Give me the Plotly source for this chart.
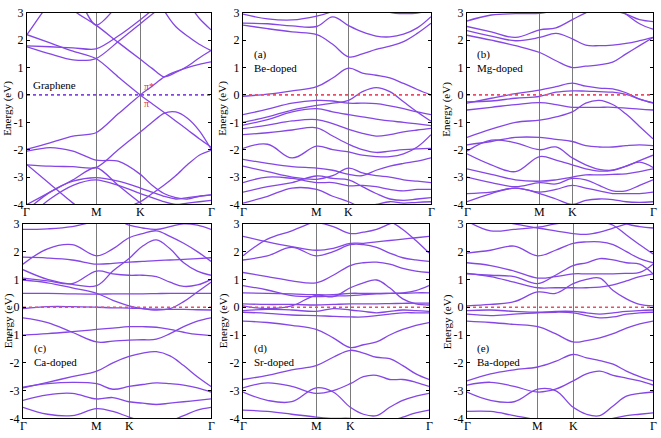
import plotly.graph_objects as go

# ---------------- data ----------------
K_LABELS = ["Γ", "M", "K", "Γ"]
E_TICKS = [-4, -3, -2, -1, 0, 1, 2, 3]

# fractional positions of M and K on each panel's k-path
M_POS = {"graphene": 0.375, "be": 0.392, "mg": 0.391, "ca": 0.392, "sr": 0.393, "ba": 0.380}
K_POS = {"graphene": 0.616, "be": 0.562, "mg": 0.566, "ca": 0.564, "sr": 0.577, "ba": 0.571}

# energies (eV) sampled at: Γ, ΓM/3, 2ΓM/3, M, MK/2, K, KΓ/6 ... 5KΓ/6, Γ
GRAPHENE_BANDS = [
    [2.2, 3.4, 4.5, 4.5, 4.5, 4.5, 4.5, 4.5, 4.5, 4.5, 4.5, 4.5],
    [2.2, 1.9, 1.6, 1.33, 0.66, 0.0, -0.32, -0.63, -0.95, -1.27, -1.6, -1.9],
    [1.76, 1.5, 1.28, 1.33, 1.95, 2.6, 2.95, 3.3, 3.6, 3.9, 4.2, 4.5],
    [1.79, 1.76, 1.72, 1.68, 2.15, 2.75, 3.1, 3.5, 4.0, 4.5, 4.5, 4.5],
    [4.5, 4.0, 3.1, 2.55, 1.92, 1.3, 0.97, 0.66, 0.82, 1.05, 1.35, 1.62],
    [4.5, 4.5, 3.9, 2.55, 3.3, 4.2, 4.5, 4.5, 4.5, 4.5, 4.5, 4.5],
    [-1.98, -1.75, -1.5, -1.38, -0.69, 0.0, 0.32, 0.65, 0.85, 1.0, 1.12, 1.21],
    [4.5, 4.5, 4.5, 4.5, 4.5, 4.5, 4.0, 3.1, 2.5, 2.15, 1.85, 1.62],
    [4.5, 4.5, 4.5, 4.5, 4.5, 4.5, 4.5, 4.5, 4.0, 3.4, 2.8, 2.38],
    [-2.05, -1.92, -2.05, -2.38, -2.42, -2.9, -3.3, -3.6, -3.75, -3.8, -3.7, -3.65],
    [-2.55, -2.6, -2.62, -2.65, -2.0, -1.35, -1.0, -0.67, -0.62, -0.85, -1.3, -1.97],
    [-2.55, -3.25, -3.95, -4.5, -4.5, -4.5, -4.5, -4.5, -4.5, -4.5, -4.5, -4.5],
    [-4.2, -3.55, -3.15, -3.02, -3.15, -3.4, -3.55, -3.7, -3.8, -3.75, -3.7, -3.65],
    [-4.5, -3.8, -3.3, -3.1, -3.3, -3.6, -3.75, -3.9, -4.0, -3.95, -3.9, -3.85],
    [-4.0, -3.55, -3.1, -2.65, -3.3, -3.95, -4.3, -4.5, -4.5, -4.5, -4.5, -4.5],
    [-4.5, -4.5, -4.5, -4.5, -4.2, -3.9, -3.6, -3.3, -2.95, -2.55, -2.2, -2.02],
]

BE_BANDS = [
    [2.95, 2.78, 2.74, 2.88, 3.05, 3.3, 3.35, 3.2, 3.02, 2.97, 2.99, 3.1],
    [2.62, 2.6, 2.52, 2.5, 2.85, 2.53, 2.3, 2.15, 2.12, 2.22, 2.45, 2.86],
    [2.55, 2.42, 2.3, 2.2, 1.85, 1.39, 1.5, 1.66, 1.78, 1.95, 2.25, 2.62],
    [-0.05, 0.03, 0.15, 0.3, 0.62, 0.98, 0.8, 0.72, 0.62, 0.42, 0.2, 0.0],
    [-0.72, -0.52, -0.3, -0.2, -0.22, -0.3, -0.3, -0.32, -0.4, -0.5, -0.62, -0.72],
    [-1.0, -0.8, -0.55, -0.38, -0.3, -0.2, 0.12, 0.27, 0.12, -0.25, -0.62, -0.96],
    [-1.1, -0.9, -0.62, -0.5, -0.62, -0.72, -0.8, -0.88, -0.95, -1.0, -1.06, -1.12],
    [-1.23, -1.1, -0.95, -0.9, -1.05, -1.26, -1.4, -1.5, -1.45, -1.35, -1.28, -1.22],
    [-1.45, -1.38, -1.28, -1.2, -1.5, -1.8, -2.0, -2.1, -2.05, -2.0, -1.97, -1.95],
    [-1.95, -1.8, -2.3, -1.87, -2.0, -2.08, -2.2, -2.25, -2.25, -2.15, -1.9, -1.45],
    [-2.35, -2.5, -2.62, -2.67, -2.75, -2.9, -2.95, -2.75, -2.6, -2.5, -2.42, -2.3],
    [-2.6, -2.8, -3.0, -3.08, -2.95, -2.67, -2.85, -2.95, -3.0, -3.1, -3.15, -3.2],
    [-3.2, -3.0, -3.05, -3.2, -3.2, -3.32, -3.3, -3.35, -3.45, -3.5, -3.45, -3.45],
    [-3.55, -3.35, -3.2, -2.96, -3.05, -3.1, -3.35, -3.6, -3.8, -3.85, -3.8, -3.75],
    [-3.95, -3.7, -3.4, -3.45, -3.7, -3.9, -4.1, -4.0, -3.9, -3.95, -3.92, -3.9],
]

MG_BANDS = [
    [2.7, 2.92, 2.97, 2.98, 3.1, 3.3, 3.4, 3.3, 3.1, 2.95, 2.75, 2.68],
    [2.5, 2.3, 2.1, 2.38, 2.45, 2.75, 3.0, 3.2, 3.3, 2.95, 2.6, 2.4],
    [2.35, 2.15, 1.98, 2.1, 2.25, 2.05, 1.82, 1.8, 1.82, 1.88, 1.98, 2.1],
    [2.18, 2.0, 1.8, 1.55, 1.25, 1.0, 1.05, 1.1, 1.2, 1.5, 1.8, 2.1],
    [-0.3, -0.12, 0.05, 0.18, 0.3, 0.43, 0.32, 0.25, 0.22, 0.08, -0.15, -0.28],
    [-0.25, -0.22, -0.12, -0.05, 0.1, 0.15, 0.14, 0.12, 0.1, 0.02, -0.15, -0.3],
    [-0.55, -0.45, -0.35, -0.28, -0.35, -0.45, -0.45, -0.45, -0.45, -0.48, -0.52, -0.55],
    [-1.55, -1.25, -1.0, -0.92, -0.8, -0.62, -0.3, -0.2, -0.35, -0.7, -1.15, -1.6],
    [-1.82, -1.7, -1.55, -1.55, -1.62, -1.7, -1.85, -1.9, -1.9, -1.85, -1.82, -1.85],
    [-2.05, -1.65, -1.75, -2.0, -1.9, -2.3, -2.55, -2.72, -2.75, -2.6, -2.4, -2.2],
    [-2.15, -2.55, -2.8, -2.25, -2.38, -2.55, -2.7, -2.78, -2.75, -2.6, -2.45, -2.65],
    [-2.7, -2.9, -3.1, -3.15, -3.1, -3.0, -2.92, -2.92, -2.9, -2.88, -2.8, -2.7],
    [-3.0, -3.2, -3.35, -3.2, -3.25, -3.05, -3.1, -3.3, -3.5, -3.5, -3.3, -3.1],
    [-3.6, -3.55, -3.4, -3.55, -3.45, -3.3, -3.4, -3.5, -3.6, -3.6, -3.6, -3.55],
    [-3.9, -3.6, -3.4, -3.6, -3.8, -4.0, -3.85, -3.8, -3.82, -3.9, -3.92, -3.9],
]

CA_BANDS = [
    [2.8, 2.82, 2.9, 3.1, 3.2, 2.95, 2.85, 2.8, 2.9, 3.0, 2.95, 2.8],
    [1.55, 2.1, 2.25, 1.85, 2.1, 2.5, 2.65, 2.75, 2.55, 2.3, 2.0, 1.65],
    [1.8, 1.77, 1.7, 1.55, 1.58, 1.62, 1.65, 1.68, 1.7, 1.72, 1.75, 1.78],
    [1.35, 1.0, 0.82, 0.78, 1.3, 1.75, 2.2, 2.42, 2.1, 1.6, 1.3, 1.15],
    [1.05, 0.95, 0.85, 1.3, 1.2, 1.15, 1.15, 1.1, 0.9, 0.75, 0.8, 1.0],
    [0.98, 0.88, 0.7, 0.5, 0.25, 0.05, -0.05, -0.1, -0.05, 0.2, 0.55, 0.9],
    [0.5, 0.5, 0.48, 0.47, 0.48, 0.48, 0.48, 0.49, 0.5, 0.5, 0.5, 0.5],
    [-0.05, 0.02, 0.02, 0.0, -0.02, -0.03, -0.05, -0.07, -0.08, -0.08, -0.09, -0.1],
    [-0.38, -0.55, -0.9, -1.25, -1.22, -1.18, -1.17, -1.15, -0.95, -0.7, -0.5, -0.38],
    [-1.0, -0.95, -0.88, -0.8, -0.75, -0.7, -0.7, -0.72, -0.8, -0.9, -0.98, -1.02],
    [-2.9, -2.7, -2.5, -2.3, -2.0, -1.77, -1.65, -1.6, -1.75, -2.1, -2.5, -2.85],
    [-2.88, -2.75, -2.7, -2.75, -2.95, -2.85, -2.78, -2.72, -2.75, -2.8, -2.9, -3.05],
    [-3.35, -3.15, -3.1, -3.3, -3.25, -3.4, -3.45, -3.5, -3.45, -3.4, -3.35, -3.3],
    [-3.6, -3.85, -3.9, -3.65, -3.75, -3.95, -4.1, -4.2, -4.1, -3.9, -3.7, -3.6],
]

SR_BANDS = [
    [1.85, 2.45, 2.75, 3.1, 3.3, 3.4, 3.4, 3.3, 3.1, 2.8, 2.4, 1.95],
    [2.55, 2.35, 2.18, 2.05, 2.12, 2.3, 2.3, 2.35, 2.4, 2.45, 2.5, 2.55],
    [1.7, 1.85, 2.15, 1.85, 2.0, 2.25, 2.25, 2.15, 1.95, 1.78, 1.7, 1.65],
    [3.3, 3.2, 3.1, 3.05, 2.9, 2.65, 2.7, 2.8, 3.0, 3.2, 3.4, 3.5],
    [1.25, 1.1, 0.95, 0.88, 1.15, 1.5, 1.6, 1.62, 1.55, 1.4, 1.3, 1.25],
    [0.78, 0.62, 0.42, 0.38, 0.4, 0.42, 0.45, 0.48, 0.5, 0.52, 0.6, 0.78],
    [0.52, 0.5, 0.48, 0.45, 0.45, 0.5, 0.5, 0.5, 0.5, 0.5, 0.52, 0.52],
    [0.05, -0.05, 0.05, 0.43, 0.38, 0.7, 0.88, 0.98, 0.7, 0.3, 0.12, 0.08],
    [0.12, 0.1, 0.1, 0.08, 0.1, 0.12, 0.12, 0.12, 0.13, 0.14, 0.15, 0.15],
    [-0.12, -0.08, -0.1, -0.15, -0.05, -0.1, -0.15, -0.2, -0.15, -0.1, -0.12, -0.15],
    [-0.18, -0.22, -0.28, -0.3, -0.33, -0.35, -0.35, -0.3, -0.25, -0.2, -0.2, -0.2],
    [-0.5, -0.55, -0.65, -0.8, -1.1, -1.45, -1.35, -1.25, -1.0, -0.8, -0.65, -0.55],
    [-2.6, -2.45, -2.25, -2.1, -1.8, -1.55, -1.65, -1.8, -1.85, -2.1, -2.4, -2.6],
    [-2.9, -2.72, -2.85, -3.1, -3.0, -2.75, -2.5, -2.45, -2.6, -2.6, -2.7, -2.85],
    [-3.05, -3.35, -3.4, -2.9, -3.05, -3.6, -3.85, -3.9, -3.6, -3.35, -3.2, -3.1],
    [-3.7, -3.75, -3.85, -3.95, -4.0, -4.0, -4.1, -4.2, -4.1, -3.95, -3.8, -3.7],
]

BA_BANDS = [
    [3.1, 2.75, 2.8, 2.88, 3.0, 3.1, 3.2, 3.3, 3.2, 3.0, 2.9, 2.85],
    [1.95, 2.05, 2.2, 1.85, 2.05, 2.3, 2.35, 2.35, 2.25, 2.0, 1.75, 1.6],
    [4.0, 3.6, 3.3, 3.1, 3.2, 3.4, 3.3, 3.1, 2.95, 2.6, 2.25, 1.92],
    [3.3, 3.1, 3.0, 2.85, 2.75, 2.65, 2.62, 2.7, 2.85, 3.0, 3.2, 3.4],
    [1.6, 1.5, 1.3, 1.05, 1.1, 1.2, 1.2, 1.2, 1.2, 1.22, 1.25, 1.55],
    [1.2, 1.15, 1.1, 0.85, 1.15, 1.5, 1.6, 1.75, 1.7, 1.6, 1.55, 1.2],
    [1.22, 1.1, 0.9, 0.7, 0.7, 0.7, 0.7, 0.72, 0.8, 0.95, 1.1, 1.2],
    [0.05, 0.1, 0.2, 0.55, 0.5, 0.85, 1.0, 1.05, 0.6, 0.3, 0.1, 0.05],
    [-0.12, -0.1, -0.15, -0.18, -0.15, -0.15, -0.2, -0.25, -0.2, -0.15, -0.12, -0.1],
    [-0.25, -0.3, -0.25, -0.2, -0.18, -0.2, -0.3, -0.38, -0.35, -0.25, -0.2, -0.18],
    [-0.5, -0.55, -0.62, -0.7, -0.95, -1.25, -1.2, -1.1, -0.95, -0.75, -0.6, -0.5],
    [-2.65, -2.4, -2.25, -2.15, -1.95, -1.7, -1.82, -1.92, -2.05, -2.3, -2.5, -2.65],
    [-2.8, -2.7, -2.85, -3.05, -2.95, -2.65, -2.4, -2.3, -2.45, -2.55, -2.65, -2.8],
    [-3.05, -3.35, -3.4, -2.95, -3.0, -3.6, -3.85, -3.9, -3.55, -3.2, -3.1, -3.05],
    [-3.75, -3.75, -3.9, -4.05, -4.1, -4.2, -4.2, -4.1, -4.0, -3.9, -3.85, -3.8],
]

PANELS = [
    ("graphene", GRAPHENE_BANDS, ["Graphene"]),
    ("be", BE_BANDS, ["(a)", "Be-doped"]),
    ("mg", MG_BANDS, ["(b)", "Mg-doped"]),
    ("ca", CA_BANDS, ["(c)", "Ca-doped"]),
    ("sr", SR_BANDS, ["(d)", "Sr-doped"]),
    ("ba", BA_BANDS, ["(e)", "Ba-doped"]),
]

# ---------------- layout geometry (pixels) ----------------
W, H = 661, 438
BOXES = {  # left, right, top, bottom
    "graphene": (27, 211, 6, 204),
    "be": (243, 431, 6, 204),
    "mg": (467, 653, 6, 204),
    "ca": (23, 211, 224, 425),
    "sr": (243, 429, 224, 425),
    "ba": (467, 653, 224, 425),
}
LABEL_POS = {
    "graphene": (31, 81),
    "be": (252, 49),
    "mg": (475, 49),
    "ca": (32, 353),
    "sr": (252, 353),
    "ba": (475, 353),
}

BAND_COLOR = "#8446e6"
FERMI_RED = "#f04a64"
FONT = "'Liberation Serif', 'Times New Roman', Times, serif"


def kgrid(m, k):
    xs = [0, m / 3, 2 * m / 3, m, (m + k) / 2, k]
    xs += [k + (1 - k) * i / 6 for i in range(1, 7)]
    return xs


fig = go.Figure()
layout = {}
annotations = []

for idx, (key, bands, label) in enumerate(PANELS):
    n = idx + 1
    xa = "x" if n == 1 else f"x{n}"
    ya = "y" if n == 1 else f"y{n}"
    l, r, t, b = BOXES[key]
    m, k = M_POS[key], K_POS[key]
    xs = kgrid(m, k)
    smooth = 0.8 if key == "graphene" else 1.1
    for band in bands:
        fig.add_trace(go.Scatter(
            x=xs, y=band, mode="lines", xaxis=xa, yaxis=ya,
            line=dict(color=BAND_COLOR, width=1.3, shape="spline", smoothing=smooth),
            hoverinfo="skip", showlegend=False))
    # Fermi level
    fcol = BAND_COLOR if key == "graphene" else FERMI_RED
    fig.add_trace(go.Scatter(
        x=[0, 1], y=[0, 0], mode="lines", xaxis=xa, yaxis=ya,
        line=dict(color=fcol, width=1.7, dash="dot"),
        hoverinfo="skip", showlegend=False))

    xkey = "xaxis" if n == 1 else f"xaxis{n}"
    ykey = "yaxis" if n == 1 else f"yaxis{n}"
    layout[xkey] = dict(
        domain=[l / W, r / W], range=[0, 1], anchor=ya,
        tickvals=[m, k], showticklabels=False,
        showgrid=True, gridcolor="#7a7a7a", gridwidth=1,
        showline=True, linecolor="black", linewidth=1, mirror=True,
        ticks="", zeroline=False)
    layout[ykey] = dict(
        domain=[1 - b / H, 1 - t / H], range=[-4, 3], anchor=xa,
        tickvals=E_TICKS, ticktext=[str(v) for v in E_TICKS],
        showgrid=False, zeroline=False,
        showline=True, linecolor="black", linewidth=1, mirror="ticks",
        ticks="inside", ticklen=3, tickcolor="black",
        tickfont=dict(family=FONT, size=12, color="black"))

    # k-point labels under the panel
    for pos, lab in zip([0, m, k, 1], K_LABELS):
        annotations.append(dict(
            text=lab, xref="paper", yref="paper",
            x=(l + pos * (r - l)) / W, y=1 - (b + 8) / H, showarrow=False,
            xanchor="center", yanchor="middle",
            font=dict(family=FONT, size=12, color="black")))

    # y-axis title
    annotations.append(dict(
        text="Energy (eV)", textangle=-90, xref="paper", yref="paper",
        x=max(l - 20, 8) / W, y=1 - (t + b) / 2 / H, showarrow=False,
        xanchor="center", yanchor="middle",
        font=dict(family=FONT, size=11, color="black")))
    # panel label
    lx, ly = LABEL_POS[key]
    for j, line in enumerate(label):
        annotations.append(dict(
            text=line, xref="paper", yref="paper",
            x=lx / W, y=1 - (ly + j * 14) / H, showarrow=False,
            xanchor="left", yanchor="middle",
            font=dict(family=FONT, size=11, color="black")))

# π labels near the Dirac point of graphene
annotations.append(dict(text="π*", xref="paper", yref="paper", x=142 / W, y=1 - 82 / H,
                        showarrow=False, xanchor="left", yanchor="middle",
                        font=dict(family=FONT, size=10, color="#e8304a")))
annotations.append(dict(text="π", xref="paper", yref="paper", x=142 / W, y=1 - 100 / H,
                        showarrow=False, xanchor="left", yanchor="middle",
                        font=dict(family=FONT, size=10, color="#e8304a")))

fig.update_layout(
    width=W, height=H, margin=dict(l=0, r=0, t=0, b=0),
    paper_bgcolor="white", plot_bgcolor="white",
    font=dict(family=FONT),
    annotations=annotations, **layout)

fig.write_html("out.html", config={"displayModeBar": False},
               post_script="document.body.style.margin='0';")
